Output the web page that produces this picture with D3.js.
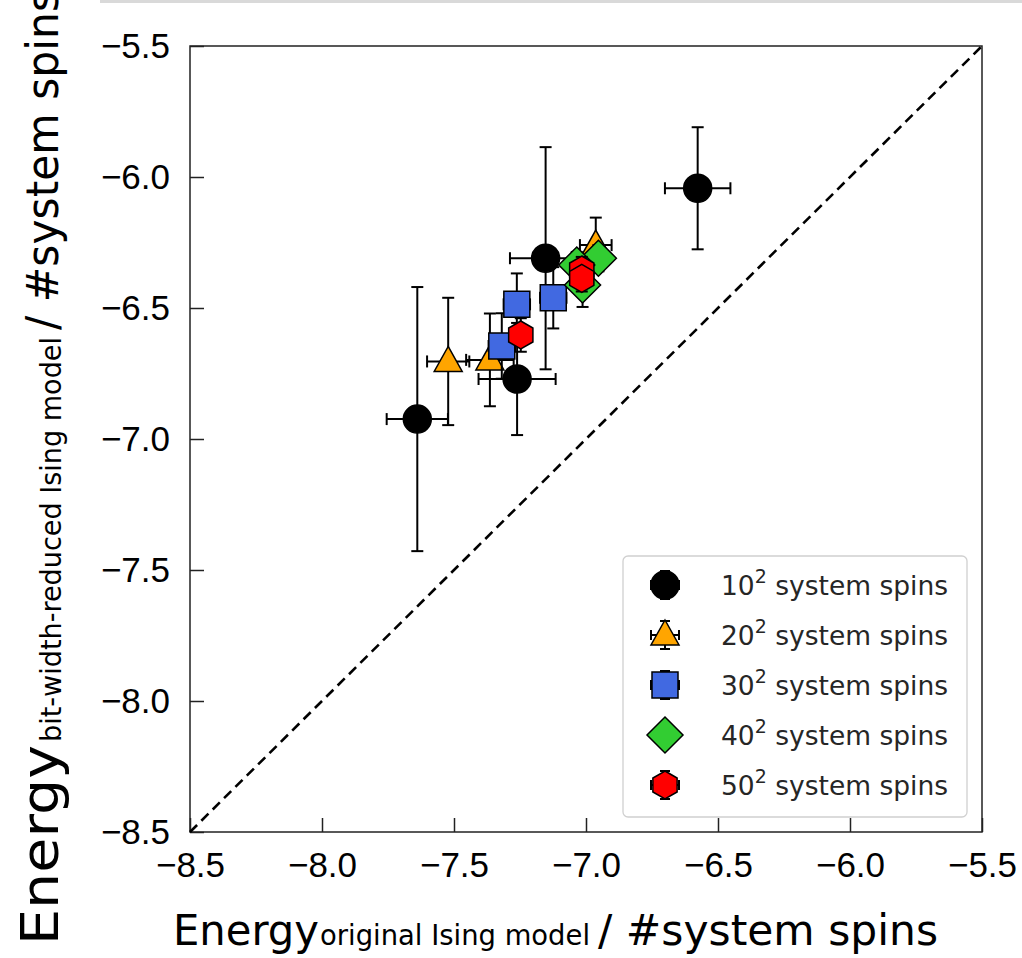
<!DOCTYPE html>
<html><head><meta charset="utf-8">
<script src="https://cdn.jsdelivr.net/npm/d3@7"></script>
<style>body{margin:0;background:#fff}</style>
</head><body>
<script>
// ---- data ----
const seriesNames = ["10", "20", "30", "40", "50"];
const seriesColors = ["#000000", "#FFA500", "#4169E1", "#32CD32", "#FF0000"];
const seriesShapes = ["circle", "triangle", "square", "diamond", "hexagon"];

const x10 = [-7.639, -7.261, -7.153, -6.577];
const y10 = [-6.924, -6.771, -6.310, -6.043];
const xerr10 = [0.116, 0.146, 0.135, 0.124];
const yerr10 = [0.504, 0.214, 0.424, 0.233];

const x20 = [-7.522, -7.364, -6.963];
const y20 = [-6.704, -6.698, -6.260];
const xerr20 = [0.080, 0.090, 0.060];
const yerr20 = [0.243, 0.177, 0.105];

const x30 = [-7.262, -7.124, -7.319];
const y30 = [-6.486, -6.461, -6.645];
const xerr30 = [0.050, 0.050, 0.050];
const yerr30 = [0.118, 0.117, 0.125];

const x40 = [-6.953, -7.035, -7.013];
const y40 = [-6.310, -6.336, -6.412];
const xerr40 = [0.030, 0.030, 0.030];
const yerr40 = [0.050, 0.050, 0.084];

const x50 = [-7.247, -7.016, -7.016];
const y50 = [-6.603, -6.355, -6.387];
const xerr50 = [0.030, 0.030, 0.030];
const yerr50 = [0.064, 0.050, 0.050];

const tickValues = [-8.5, -8.0, -7.5, -7.0, -6.5, -6.0, -5.5];
const axisDomain = [-8.5, -5.5];

const allX = [x10, x20, x30, x40, x50];
const allY = [y10, y20, y30, y40, y50];
const allXerr = [xerr10, xerr20, xerr30, xerr40, xerr50];
const allYerr = [yerr10, yerr20, yerr30, yerr40, yerr50];

// ---- layout ----
const W = 1022, H = 958;
const L = 190, R = 982, T = 46, B = 832;

const svg = d3.select("body").append("svg").attr("width", W).attr("height", H)
  .style("font-family", "'DejaVu Sans', sans-serif");

svg.append("rect").attr("x", 100).attr("y", 0).attr("width", 922).attr("height", 3).attr("fill", "#d9d9d9");

const x = d3.scaleLinear().domain(axisDomain).range([L, R]);
const y = d3.scaleLinear().domain(axisDomain).range([B, T]);

const fmt = d => d.toFixed(1).replace("-", "\u2212");

// axes (ticks inward)
const xAxis = d3.axisBottom(x).tickValues(tickValues).tickSize(-14).tickPadding(20).tickFormat(fmt);
const yAxis = d3.axisLeft(y).tickValues(tickValues).tickSize(-14).tickPadding(20).tickFormat(fmt);

const gx = svg.append("g").attr("transform", `translate(0,${B})`).call(xAxis);
const gy = svg.append("g").attr("transform", `translate(${L},0)`).call(yAxis);
[gx, gy].forEach(g => {
  g.select(".domain").remove();
  g.selectAll(".tick line").attr("stroke", "#222").attr("stroke-width", 1.5);
  g.selectAll(".tick text").attr("fill", "#000").style("font-size", "35px").style("font-family", "'Liberation Sans', Arial, sans-serif");
});
gx.selectAll(".tick text").attr("dy", "0.71em");

// frame
svg.append("rect").attr("x", L).attr("y", T).attr("width", R - L).attr("height", B - T)
  .attr("fill", "none").attr("stroke", "#222").attr("stroke-width", 1.5);

// diagonal
svg.append("line").attr("x1", x(axisDomain[0])).attr("y1", y(axisDomain[0]))
  .attr("x2", x(axisDomain[1])).attr("y2", y(axisDomain[1]))
  .attr("stroke", "#000").attr("stroke-width", 2.6).attr("stroke-dasharray", "10,6");

// marker shapes
function shapePath(shape) {
  switch (shape) {
    case "circle": return d3.symbol(d3.symbolCircle, Math.PI * 14 * 14)();
    case "square": return "M-13,-13L13,-13L13,13L-13,13Z";
    case "triangle": return "M0,-15L14,10L-14,10Z";
    case "diamond": return "M0,-18L18,0L0,18L-18,0Z";
    case "hexagon": {
      const r = 14; const pts = [];
      for (let i = 0; i < 6; i++) { const a = -Math.PI / 2 + i * Math.PI / 3; pts.push([r * Math.cos(a), r * Math.sin(a)]); }
      return "M" + pts.map(p => p.join(",")).join("L") + "Z";
    }
  }
}

const plot = svg.append("g");
const cap = 6;
seriesNames.forEach((name, si) => {
  const xs = allX[si], ys = allY[si], xe = allXerr[si], ye = allYerr[si];
  const g = plot.append("g");
  xs.forEach((xv, i) => {
    const cx = x(xv), cy = y(ys[i]);
    const x0 = x(xv - xe[i]), x1 = x(xv + xe[i]);
    const y0 = y(ys[i] - ye[i]), y1 = y(ys[i] + ye[i]);
    const eb = g.append("g").attr("stroke", "#000").attr("stroke-width", 2);
    eb.append("line").attr("x1", x0).attr("x2", x1).attr("y1", cy).attr("y2", cy);
    eb.append("line").attr("x1", cx).attr("x2", cx).attr("y1", y0).attr("y2", y1);
    eb.append("line").attr("x1", x0).attr("x2", x0).attr("y1", cy - cap).attr("y2", cy + cap);
    eb.append("line").attr("x1", x1).attr("x2", x1).attr("y1", cy - cap).attr("y2", cy + cap);
    eb.append("line").attr("x1", cx - cap).attr("x2", cx + cap).attr("y1", y0).attr("y2", y0);
    eb.append("line").attr("x1", cx - cap).attr("x2", cx + cap).attr("y1", y1).attr("y2", y1);
  });
  xs.forEach((xv, i) => {
    g.append("path").attr("d", shapePath(seriesShapes[si]))
      .attr("transform", `translate(${x(xv)},${y(ys[i])})`)
      .attr("fill", seriesColors[si]).attr("stroke", "#000").attr("stroke-width", 1.5);
  });
});

// legend
const lg = svg.append("g");
lg.append("rect").attr("x", 623).attr("y", 556).attr("width", 344).attr("height", 261)
  .attr("rx", 5).attr("fill", "#fff").attr("fill-opacity", 0.85).attr("stroke", "#d0d0d0").attr("stroke-width", 1.3);
seriesNames.forEach((name, si) => {
  const cy = 585 + si * 50, cx = 665;
  const e = lg.append("g").attr("stroke", "#000").attr("stroke-width", 2);
  if (seriesShapes[si] !== "diamond") {
    e.append("line").attr("x1", cx - 14).attr("x2", cx + 14).attr("y1", cy).attr("y2", cy);
    e.append("line").attr("x1", cx).attr("x2", cx).attr("y1", cy - 14).attr("y2", cy + 14);
    e.append("line").attr("x1", cx - 14).attr("x2", cx - 14).attr("y1", cy - 5).attr("y2", cy + 5);
    e.append("line").attr("x1", cx + 14).attr("x2", cx + 14).attr("y1", cy - 5).attr("y2", cy + 5);
    e.append("line").attr("x1", cx - 5).attr("x2", cx + 5).attr("y1", cy - 14).attr("y2", cy - 14);
    e.append("line").attr("x1", cx - 5).attr("x2", cx + 5).attr("y1", cy + 14).attr("y2", cy + 14);
  }
  lg.append("path").attr("d", shapePath(seriesShapes[si]))
    .attr("transform", `translate(${cx},${cy})`)
    .attr("fill", seriesColors[si]).attr("stroke", "#000").attr("stroke-width", 1.5);
  const t = lg.append("text").attr("x", 721).attr("y", cy + 10).attr("fill", "#262626").style("font-size", "26.5px");
  t.append("tspan").text(name);
  t.append("tspan").attr("dy", -12).style("font-size", "19px").text("2");
  t.append("tspan").attr("dy", 12).text(" system spins");
});

// axis titles
const tf = "'DejaVu Sans', sans-serif";
const xt = svg.append("g").style("font-family", tf).attr("fill", "#000");
xt.append("text").attr("x", 173).attr("y", 945).style("font-size", "43px").attr("textLength", 146).attr("lengthAdjust", "spacingAndGlyphs").text("Energy");
xt.append("text").attr("x", 320).attr("y", 945).style("font-size", "28px").attr("textLength", 270).attr("lengthAdjust", "spacingAndGlyphs").text("original Ising model");
xt.append("text").attr("x", 598).attr("y", 945).style("font-size", "42px").attr("textLength", 340).attr("lengthAdjust", "spacingAndGlyphs").text("/ #system spins");

const yt = svg.append("g").style("font-family", tf).attr("fill", "#000")
  .attr("transform", "translate(58,0) rotate(-90)");
yt.append("text").attr("x", -945).attr("y", 0).style("font-size", "52px").attr("textLength", 200).attr("lengthAdjust", "spacingAndGlyphs").text("Energy");
yt.append("text").attr("x", -742).attr("y", 3).style("font-size", "28px").attr("textLength", 405).attr("lengthAdjust", "spacingAndGlyphs").text("bit-width-reduced Ising model");
yt.append("text").attr("x", -330).attr("y", 0).style("font-size", "44px").attr("textLength", 340).attr("lengthAdjust", "spacingAndGlyphs").text("/ #system spins");
</script>
</body></html>
